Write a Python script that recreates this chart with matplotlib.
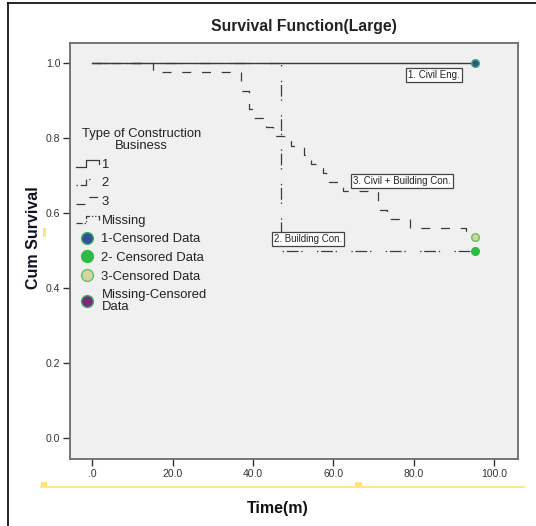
import matplotlib
matplotlib.use('Agg')
import matplotlib.pyplot as plt
from matplotlib.lines import Line2D
from matplotlib.patches import Rectangle
from matplotlib.legend_handler import HandlerBase

plt.rcParams['font.family'] = ['Liberation Sans', 'DejaVu Sans']

# Kaplan-Meier estimates by type of construction business
time_civil = [0.0, 95.2]
surv_civil = [1.0, 1.0]

time_building = [0.0, 47.0, 95.2]
surv_building = [1.0, 0.5, 0.5]

time_mixed = [0.0, 15.1, 37.0, 39.0, 39.7, 43.2, 45.0, 49.4, 52.7, 54.4,
              57.4, 58.9, 62.4, 71.1, 73.3, 79.0, 93.0, 95.2]
surv_mixed = [1.000, 0.976, 0.927, 0.878, 0.854, 0.829, 0.805, 0.780, 0.756, 0.732,
              0.707, 0.683, 0.659, 0.610, 0.585, 0.561, 0.537, 0.537]

# censored cases (last observation of each group)
cens_time = [95.2, 95.2, 95.2]
cens_surv = [1.0, 0.5, 0.537]

group_labels = ['1', '2', '3', 'Missing']
censor_labels = ['1-Censored Data', '2- Censored Data', '3-Censored Data',
                 'Missing-Censored\nData']
curve_labels = ['1. Civil Eng.', '2. Building Con.', '3. Civil + Building Con.']
label_pos_x = [85.0, 53.8, 77.0]
label_pos_y = [0.969, 0.531, 0.687]

xticks = [0, 20, 40, 60, 80, 100]
xtick_labels = ['.0', '20.0', '40.0', '60.0', '80.0', '100.0']
yticks = [0.0, 0.2, 0.4, 0.6, 0.8, 1.0]
ytick_labels = ['0.0', '0.2', '0.4', '0.6', '0.8', '1.0']

line_col = '#3a3a3a'
ls_solid = '-'
ls_dashdot = (0, (1.1, 2.2, 9.4, 2.2, 1.1, 11.5))
ls_dash = (0, (7.2, 8.6))
ls_missing = (0, (5, 1.5, 1, 1.5, 1, 1.5))
fill_cols = ['#33509e', '#2dbb45', '#d8d39f', '#7a2a7c']
edge_cols = ['#3cb05a', '#2dbb45', '#5cc460', '#3cb05a']

fig = plt.figure(figsize=(5.36, 5.26), dpi=100)
ax = fig.add_axes([70 / 536, 1 - 459 / 526, 448 / 536, 416 / 526])
ax.set_facecolor('#f0f0f0')

ax.step(time_mixed, surv_mixed, where='post', color=line_col, lw=0.9, ls=ls_dash)
ax.step(time_building, surv_building, where='post', color=line_col, lw=0.9, ls=ls_dashdot)
ax.step(time_civil, surv_civil, where='post', color=line_col, lw=1.0, ls=ls_solid)

for i in range(3):
    ax.plot(cens_time[i], cens_surv[i], 'o', ms=5.5, mfc=fill_cols[i],
            mec=edge_cols[i], mew=1.0, zorder=5)

for txt, lx, ly in zip(curve_labels, label_pos_x, label_pos_y):
    ax.text(lx, ly, txt, fontsize=7, ha='center', va='center', color='#222222',
            bbox=dict(boxstyle='square,pad=0.2', fc='white', ec='#444444', lw=0.9))

ax.set_xlim(-5.5, 105.9)
ax.set_ylim(-0.055, 1.054)
ax.set_xticks(xticks)
ax.set_xticklabels(xtick_labels)
ax.set_yticks(yticks)
ax.set_yticklabels(ytick_labels)
ax.tick_params(labelsize=7.5, colors='#333333', length=5, width=1.0, pad=2)
for sp in ax.spines.values():
    sp.set_color('#6a6a6a')
    sp.set_linewidth(1.3)


# little step glyph used in the legend for each group
class StepHandler(HandlerBase):
    def create_artists(self, legend, orig_handle, xdescent, ydescent,
                       width, height, fontsize, trans):
        xs = [-xdescent + width * f for f in (0.0, 0.45, 0.45, 1.0, 1.0)]
        ys = [-ydescent + height * f for f in (0.1, 0.1, 0.85, 0.85, 0.45)]
        ln = Line2D(xs, ys, color=orig_handle.get_color(),
                    lw=orig_handle.get_linewidth(), transform=trans)
        ln.set_linestyle(orig_handle.get_linestyle())
        dashes = orig_handle._unscaled_dash_pattern[1]
        if dashes:
            ln.set_dashes(dashes)
        return [ln]


step_handles = [Line2D([], [], color=line_col, lw=0.9, ls=s)
                for s in (ls_solid, ls_dashdot, ls_dash, ls_missing)]
dot_handles = [Line2D([], [], ls='none', marker='o', ms=8.5, mfc=fc, mec=ec, mew=1.0)
               for fc, ec in zip(fill_cols, edge_cols)]
hmap = {h: StepHandler() for h in step_handles}

leg = fig.legend(step_handles + dot_handles, group_labels + censor_labels,
                 handler_map=hmap, loc='upper left',
                 bbox_to_anchor=(76 / 536, 1 - 128 / 526), frameon=False,
                 fontsize=9.4, title='Type of Construction\nBusiness', title_fontsize=9.4,
                 borderpad=0, labelspacing=0.5, handlelength=1.75, handleheight=0.7,
                 handletextpad=0.2, borderaxespad=0)
for t in leg.get_texts():
    t.set_color('#222222')
    t.set_linespacing(1.0)
leg.get_title().set_color('#222222')
leg.get_title().set_linespacing(1.0)
leg.get_title().set_multialignment('center')

fig.text(304 / 536, 1 - 26 / 526, 'Survival Function(Large)', fontsize=11.3,
         fontweight='bold', ha='center', va='center', color='#222222')
fig.text(278 / 536, 1 - 508 / 526, 'Time(m)', fontsize=11.5, fontweight='bold',
         ha='center', va='center', color='#111111')
fig.text(33 / 536, 1 - 238 / 526, 'Cum Survival', fontsize=11.5, fontweight='bold',
         ha='center', va='center', rotation=90, color='#111122')

# outer frame of the exported chart
fig.add_artist(Line2D([8 / 536, 8 / 536], [0, 1 - 3 / 526], color='black', lw=1.2,
                      transform=fig.transFigure))
fig.add_artist(Line2D([8 / 536, 1], [1 - 3 / 526, 1 - 3 / 526], color='black', lw=1.2,
                      transform=fig.transFigure))

# selection guides from the chart editor
yel = '#ffe27a'
fig.add_artist(Line2D([41 / 536, 524 / 536], [1 - 487 / 526, 1 - 487 / 526], color=yel,
                      lw=1.2, transform=fig.transFigure))
for (rx, ry, rw, rh) in [(41, 482, 6, 5), (355, 482, 7, 5), (43, 228, 3, 9)]:
    fig.add_artist(Rectangle((rx / 536, 1 - (ry + rh) / 526), rw / 536, rh / 526,
                             facecolor=yel, edgecolor='none', transform=fig.transFigure))

fig.savefig('out.png', dpi=100)
